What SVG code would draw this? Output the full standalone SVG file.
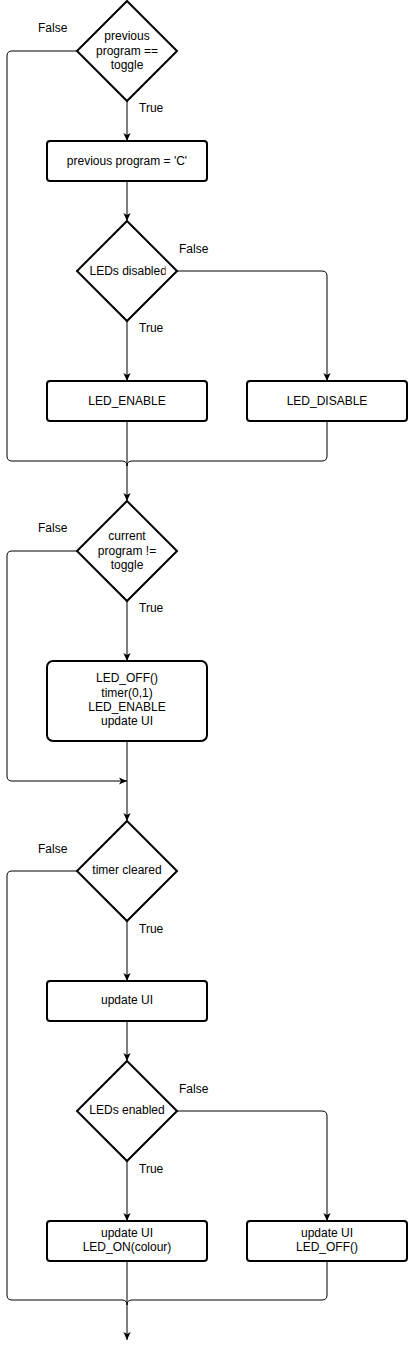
<svg xmlns="http://www.w3.org/2000/svg" width="409" height="1351" viewBox="0 0 409 1351">
<style>
  .shape { fill: #fff; stroke: #000; stroke-width: 2; }
  .edge { fill: none; stroke: #000; stroke-width: 1; }
  .t { font-family: "Liberation Sans", Arial, Helvetica, sans-serif; font-size: 12px; fill: #000; text-anchor: middle; }
  .lbl { font-family: "Liberation Sans", Arial, Helvetica, sans-serif; font-size: 12px; fill: #000; }
</style>
<defs>
  <marker id="arr" viewBox="0 0 10 10" refX="10" refY="5" markerWidth="8" markerHeight="8" markerUnits="userSpaceOnUse" orient="auto">
    <path d="M0,0.5 L10,5 L0,9.5 L2.5,5 Z" fill="#000" stroke="none"/>
  </marker>
  <clipPath id="clipD2"><rect x="77" y="255" width="88.6" height="30"/></clipPath>
</defs>
<rect width="409" height="1351" fill="#fff"/>
<g id="connectors">
  <path class="edge" d="M127,101 V141" marker-end="url(#arr)"/>
  <path class="edge" d="M77,51 H12 Q7,51 7,56 V456 Q7,461 12,461 H122 Q127,461 127,466"/>
  <path class="edge" d="M127,181 V221" marker-end="url(#arr)"/>
  <path class="edge" d="M127,321 V381" marker-end="url(#arr)"/>
  <path class="edge" d="M177,271 H322 Q327,271 327,276 V381" marker-end="url(#arr)"/>
  <path class="edge" d="M127,421 V501" marker-end="url(#arr)"/>
  <path class="edge" d="M327,421 V456 Q327,461 322,461 H132 Q127,461 127,466"/>
  <path class="edge" d="M127,601 V661" marker-end="url(#arr)"/>
  <path class="edge" d="M77,551 H12 Q7,551 7,556 V776 Q7,781 12,781 H127" marker-end="url(#arr)"/>
  <path class="edge" d="M127,741 V821" marker-end="url(#arr)"/>
  <path class="edge" d="M127,921 V981" marker-end="url(#arr)"/>
  <path class="edge" d="M77,871 H12 Q7,871 7,876 V1295 Q7,1300 12,1300 H122 Q127,1300 127,1305"/>
  <path class="edge" d="M127,1021 V1061" marker-end="url(#arr)"/>
  <path class="edge" d="M127,1161 V1221" marker-end="url(#arr)"/>
  <path class="edge" d="M177,1111 H322 Q327,1111 327,1116 V1221" marker-end="url(#arr)"/>
  <path class="edge" d="M127,1261 V1340" marker-end="url(#arr)"/>
  <path class="edge" d="M327,1261 V1295 Q327,1300 322,1300 H132 Q127,1300 127,1305"/>
  <text class="lbl" x="38" y="32">False</text>
  <text class="lbl" x="139" y="112">True</text>
  <text class="lbl" x="179" y="253">False</text>
  <text class="lbl" x="139" y="332">True</text>
  <text class="lbl" x="38" y="532">False</text>
  <text class="lbl" x="139" y="612">True</text>
  <text class="lbl" x="38" y="853">False</text>
  <text class="lbl" x="139" y="933">True</text>
  <text class="lbl" x="179" y="1093">False</text>
  <text class="lbl" x="139" y="1173">True</text>
</g>
<g id="d1">
  <polygon class="shape" points="127,1 177,51 127,101 77,51"/>
  <text class="t" x="127" y="40">previous</text>
  <text class="t" x="127" y="55">program ==</text>
  <text class="t" x="127" y="69">toggle</text>
</g>
<g id="b1">
  <rect class="shape" x="47" y="141" width="160" height="40" rx="3"/>
  <text class="t" x="127" y="165">previous program = 'C'</text>
</g>
<g id="d2">
  <polygon class="shape" points="127,221 177,271 127,321 77,271"/>
  <text class="lbl" x="89.5" y="275" clip-path="url(#clipD2)">LEDs disabled</text>
</g>
<g id="b2">
  <rect class="shape" x="47" y="381" width="160" height="40" rx="3"/>
  <text class="t" x="127" y="405">LED_ENABLE</text>
</g>
<g id="b3">
  <rect class="shape" x="247" y="381" width="160" height="40" rx="3"/>
  <text class="t" x="327" y="405">LED_DISABLE</text>
</g>
<g id="d3">
  <polygon class="shape" points="127,501 177,551 127,601 77,551"/>
  <text class="t" x="127" y="540">current</text>
  <text class="t" x="127" y="555">program !=</text>
  <text class="t" x="127" y="569">toggle</text>
</g>
<g id="b4">
  <rect class="shape" x="47" y="661" width="160" height="80" rx="6"/>
  <text class="t" x="127" y="682">LED_OFF()</text>
  <text class="t" x="127" y="697">timer(0,1)</text>
  <text class="t" x="127" y="711">LED_ENABLE</text>
  <text class="t" x="127" y="725">update UI</text>
</g>
<g id="d4">
  <polygon class="shape" points="127,821 177,871 127,921 77,871"/>
  <text class="t" x="127" y="874">timer cleared</text>
</g>
<g id="b5">
  <rect class="shape" x="47" y="981" width="160" height="40" rx="3"/>
  <text class="t" x="127" y="1004">update UI</text>
</g>
<g id="d5">
  <polygon class="shape" points="127,1061 177,1111 127,1161 77,1111"/>
  <text class="t" x="127" y="1114">LEDs enabled</text>
</g>
<g id="b6">
  <rect class="shape" x="47" y="1221" width="160" height="40" rx="3"/>
  <text class="t" x="127" y="1237">update UI</text>
  <text class="t" x="127" y="1251">LED_ON(colour)</text>
</g>
<g id="b7">
  <rect class="shape" x="247" y="1221" width="160" height="40" rx="3"/>
  <text class="t" x="327" y="1237">update UI</text>
  <text class="t" x="327" y="1251">LED_OFF()</text>
</g>
</svg>
